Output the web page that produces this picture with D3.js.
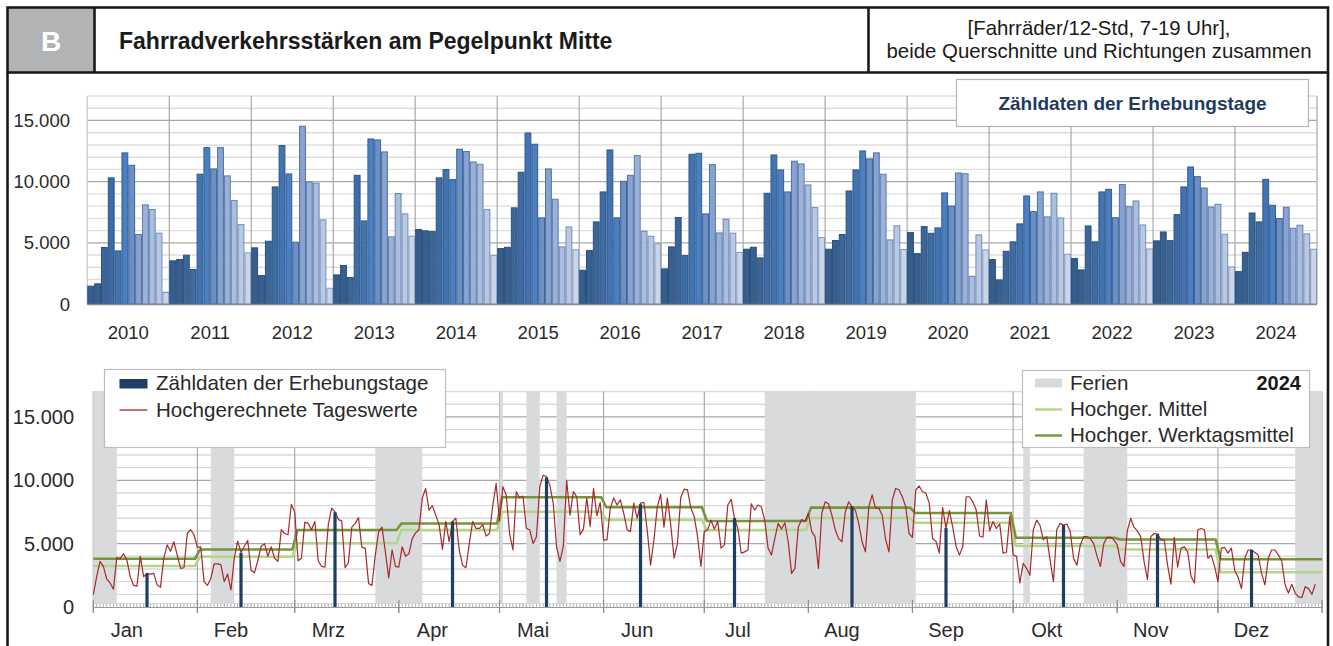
<!DOCTYPE html>
<html><head><meta charset="utf-8">
<script src="https://cdn.jsdelivr.net/npm/d3@7"></script>
<style>body{margin:0;background:#fff}svg{display:block;font-family:"Liberation Sans",Arial,Helvetica,sans-serif}</style>
</head><body><svg id="c" width="1333" height="646"></svg>
<script>
// ---------------- DATA ----------------
const years = [2010,2011,2012,2013,2014,2015,2016,2017,2018,2019,2020,2021,2022,2023,2024];
const monthNames = ["Jan","Feb","Mrz","Apr","Mai","Jun","Jul","Aug","Sep","Okt","Nov","Dez"];
// Zähldaten der Erhebungstage, one value per month and year
const surveyByYear = [
  [1500,1690,4660,10350,4380,12390,11380,5720,8140,7760,5830,980],
  [3570,3680,4030,2860,10650,12820,11080,12820,10510,8490,6530,4220],
  [4630,2370,5170,9610,12990,10670,5090,14570,10020,9910,6920,1330],
  [2420,3190,2210,10560,6830,13530,13450,12470,5530,9070,7410,5580],
  [6130,6020,5960,10350,11030,10210,12690,12500,11650,11460,7760,4000],
  [4570,4680,7900,10810,14020,13100,7080,11080,8600,4710,6340,4470],
  [2800,4410,6750,9200,12630,7080,10070,10560,12170,5990,5580,4960],
  [2910,4710,7110,4000,12280,12360,7410,11430,5850,6970,5830,4250],
  [4520,4680,3810,9090,12220,11000,9200,11710,11490,9770,7920,5470],
  [4520,5230,5720,9280,11000,12550,11900,12390,10650,5280,6430,4490],
  [5880,4160,6370,5820,6260,9120,8050,10750,10690,2310,5690,4460],
  [3670,2010,4350,5120,6590,8870,7590,9200,7160,9090,7070,4110],
  [3760,2830,6420,5120,9200,9410,7100,9800,8000,8460,6500,4540],
  [5200,5930,5220,7350,9610,11240,10450,9520,7970,8190,5740,3070],
  [2690,4270,7480,6750,10230,8110,7020,7950,6230,6480,5770,4520]
];
const yTicks = [0,5000,10000,15000];
// 2024 daily chart
const monthStartDays = [0,31,60,91,121,152,182,213,244,274,305,335,366];
const surveyDays2024 = [16,44,72,107,135,163,191,226,254,289,317,345];
const surveyValues2024 = [2690,4270,7480,6750,10230,8110,7020,7950,6230,6480,5770,4520];
const dailyValues2024 = [
950,2400,3600,3200,2200,1900,1400,3900,3800,4200,3700,2400,1700,1650,4000,2400,2600,2600,2650,1750,
1550,3850,4900,4400,5150,4100,3050,3100,5800,6100,5700,4700,4750,2000,1700,2250,3400,3400,3350,2000,
2600,1350,3850,5200,4300,4800,5250,2900,2700,3650,4800,5000,4000,4750,3850,3600,6100,5800,5700,8100,
7500,3650,3850,6700,6600,6100,6750,3650,3200,3150,6500,7800,7500,6900,6800,3100,3500,6300,6600,7050,
4700,4650,1850,1700,4100,5950,6300,4350,2300,4500,3200,3150,4750,4000,4200,5400,5850,6100,8600,9350,
7650,8000,7250,6500,4550,6750,5150,6750,7000,4500,3300,3100,5000,6750,6200,6200,6500,5600,5800,8050,
9750,6800,9500,8850,5800,4500,9100,8600,8750,6200,6100,5000,5550,9500,10400,10300,9600,8200,4750,3600,
4800,10000,7250,9100,8700,5700,6150,8600,6350,9350,7200,8250,5300,5300,7800,8600,8050,8450,7400,6100,
5950,8200,7000,8200,8250,6100,3300,5300,7900,8900,6300,8600,6500,3850,5000,8650,9300,9250,7800,7150,
5550,3200,5950,6100,6850,6150,6750,4650,4900,8050,8500,7000,6200,4250,4350,4500,8150,7650,8050,7900,
6850,4650,4100,5400,6600,6150,6650,5150,2650,3050,6300,6900,6750,7400,5950,5550,3050,7400,8300,8150,
7250,6100,5400,5150,7500,8300,7900,7650,6600,5150,4350,7900,8850,7800,7800,7250,5350,4350,8450,9350,
9250,8700,7900,5800,5500,9250,9550,9100,9000,8200,5400,5200,4250,7850,6200,7600,6300,4800,4100,4750,
8700,8700,8300,7650,5600,5500,8450,6000,6750,6200,6550,4250,4300,7150,4100,4000,1900,3450,3050,2500,
6100,6850,6450,5300,5550,3700,2000,6100,6600,6450,6550,5950,3850,3300,4900,5550,5550,5400,5000,4000,
3200,5000,5500,5500,5300,4900,3600,3200,6000,7000,6300,6000,5550,3600,2150,5550,5800,5750,5300,5300,
3300,1800,5500,3150,4650,4750,4350,2400,1900,6100,6200,6100,3850,4100,3200,2000,4650,4700,4250,4650,
2900,2350,1450,3850,4500,4500,4300,4100,2650,1750,3850,4500,4500,4100,3650,1750,1100,1800,1100,800,
750,1600,1450,1000,1800
];
const meanMonthly2024 = [3240,3970,5030,6080,7520,6870,6080,7020,6650,4810,4540,2740];
const workdayMeanMonthly2024 = [3810,4540,6080,6590,8660,7870,6790,7840,7420,5470,5330,3770];
// school holidays (start day, end day) of 2024
const holidays2024 = [[0,7],[35,42],[84,98],[121,122],[129,133],[138,141],[200,245],[277,279],[295,308],[358,366]];
// day within each month at which its label is centred
const monthLabelDay = 10;

// ---------------- DRAW ----------------
const svg = d3.select("#c");
const de = d3.formatLocale({decimal:",",thousands:".",grouping:[3],currency:["","€"]});
const fmt = de.format(",");

// ---- header ----
svg.append("rect").attr("x",7.5).attr("y",7.5).attr("width",87).attr("height",65).attr("fill","#b2b3b5");
svg.append("text").attr("x",51).attr("y",51).attr("text-anchor","middle").attr("fill","#fff")
  .attr("font-weight","bold").attr("font-size",28).text("B");
svg.append("text").attr("x",119).attr("y",49).attr("fill","#1a1a1a")
  .attr("font-weight","bold").attr("font-size",23).text("Fahrradverkehrsstärken am Pegelpunkt Mitte");
svg.append("text").attr("x",1099).attr("y",35).attr("text-anchor","middle").attr("fill","#1a1a1a")
  .attr("font-size",20.4).text("[Fahrräder/12-Std, 7-19 Uhr],");
svg.append("text").attr("x",1099).attr("y",58).attr("text-anchor","middle").attr("fill","#1a1a1a")
  .attr("font-size",20.4).text("beide Querschnitte und Richtungen zusammen");

// ---------------- TOP CHART ----------------
const topY = d3.scaleLinear().domain([0,17000]).range([304,96]);
const yearX = d3.scaleBand().domain(years).range([87.3,1317]).padding(0);
const monthX = d3.scaleBand().domain(d3.range(12)).range([0,yearX.bandwidth()]).padding(0);
const monthFill = ["#365e8d","#37608f","#3a6698","#3d6ca4","#4274b1","#4a80c2","#6c90c4","#88a3cf","#9cb1d7","#abbedd","#bac8e3","#cad5ea"];
const monthStroke = ["#2c4f7c","#2c4f7c","#2d527f","#2e5484","#305789","#335c91","#3f6498","#4e72a6","#5a7cad","#6483b2","#7190ba","#8098c0"];

const gTop = svg.append("g");
gTop.selectAll(".tg").data(d3.range(0,17001,1000)).join("line")
  .attr("x1",87.3).attr("x2",1317).attr("y1",d=>topY(d)).attr("y2",d=>topY(d))
  .attr("stroke",d=>d%5000===0?"#a8a8a8":"#dedede").attr("stroke-width",d=>d%5000===0?1.3:1.4);
const yearEdges = years.map(y=>yearX(y)).concat([yearX(years[years.length-1])+yearX.bandwidth()]);
gTop.selectAll(".yd").data(yearEdges).join("line")
  .attr("x1",d=>d).attr("x2",d=>d)
  .attr("y1",topY(17000)).attr("y2",topY(0))
  .attr("stroke",(d,i)=>i===0?"#c8c8c8":"#a8a8a8").attr("stroke-width",1.2);
const barData = [];
years.forEach((yr,yi)=>surveyByYear[yi].forEach((v,m)=>barData.push({yr,m,v})));
gTop.selectAll(".bar").data(barData).join("rect")
  .attr("x",d=>yearX(d.yr)+monthX(d.m)+0.5)
  .attr("width",monthX.bandwidth()-1)
  .attr("y",d=>topY(d.v)+0.5)
  .attr("height",d=>topY(0)-topY(d.v)-0.5)
  .attr("fill",d=>monthFill[d.m]).attr("stroke",d=>monthStroke[d.m]).attr("stroke-width",1);
gTop.append("line").attr("x1",87.3).attr("x2",1317).attr("y1",topY(0)+0.5).attr("y2",topY(0)+0.5)
  .attr("stroke","#7d8ba0").attr("stroke-width",1.6);
gTop.selectAll(".yl").data(yTicks).join("text")
  .attr("x",70).attr("y",d=>topY(d)).attr("dy","0.36em").attr("text-anchor","end")
  .attr("font-size",18.5).attr("fill","#2a2a2a").text(d=>fmt(d));
gTop.selectAll(".xl").data(years).join("text")
  .attr("x",d=>yearX(d)+yearX.bandwidth()/2).attr("y",339).attr("text-anchor","middle")
  .attr("font-size",18.5).attr("fill","#2a2a2a").text(d=>d);
gTop.append("rect").attr("x",956.5).attr("y",79.5).attr("width",352).attr("height",47)
  .attr("fill","#fff").attr("stroke","#b4b4b4").attr("stroke-width",1.2);
gTop.append("text").attr("x",1132.5).attr("y",110).attr("text-anchor","middle")
  .attr("font-weight","bold").attr("font-size",19).attr("fill","#1f3b61").text("Zähldaten der Erhebungstage");

// ---------------- BOTTOM CHART ----------------
const bx = d3.scaleLinear().domain([0,366]).range([93.3,1322]);
const by = d3.scaleLinear().domain([0,17000]).range([607,391.6]);
const gB = svg.append("g");
gB.selectAll(".bg").data(d3.range(1000,17001,1000)).join("line")
  .attr("x1",bx(0)).attr("x2",bx(366)).attr("y1",d=>by(d)).attr("y2",d=>by(d))
  .attr("stroke",d=>d%5000===0?"#a8a8a8":"#d9d9d9").attr("stroke-width",d=>d%5000===0?1.3:1.4);
gB.selectAll(".ml").data(monthStartDays).join("line")
  .attr("x1",d=>bx(d)).attr("x2",d=>bx(d)).attr("y1",by(17000)).attr("y2",613)
  .attr("stroke","#a3a3a3").attr("stroke-width",1.1);
gB.selectAll(".hol").data(holidays2024).join("rect")
  .attr("x",d=>bx(d[0])).attr("width",d=>bx(d[1])-bx(d[0]))
  .attr("y",by(17000)).attr("height",by(0)-by(17000)-4)
  .attr("fill","#d9dadc");
gB.selectAll(".dt").data(d3.range(0,367)).join("line")
  .attr("x1",d=>bx(d)).attr("x2",d=>bx(d)).attr("y1",603).attr("y2",607)
  .attr("stroke","#9a9a9a").attr("stroke-width",0.8);
gB.append("line").attr("x1",bx(0)).attr("x2",bx(366)).attr("y1",603.5).attr("y2",603.5)
  .attr("stroke","#d0d0d0").attr("stroke-width",0.8);
gB.append("line").attr("x1",bx(0)).attr("x2",bx(366)).attr("y1",607.5).attr("y2",607.5)
  .attr("stroke","#9a9a9a").attr("stroke-width",1.2);
gB.selectAll(".mt").data(monthStartDays).join("line")
  .attr("x1",d=>bx(d)).attr("x2",d=>bx(d)).attr("y1",600).attr("y2",613)
  .attr("stroke","#8a8a8a").attr("stroke-width",1.1);
function stepPoints(vals){
  const pts=[];
  vals.forEach((v,i)=>{
    pts.push([i===0?monthStartDays[0]:monthStartDays[i]+0.8, v]);
    pts.push([i===11?monthStartDays[12]:monthStartDays[i+1]-0.7, v]);
  });
  return pts;
}
const lineGen = d3.line().x(d=>bx(d[0])).y(d=>by(d[1]));
gB.append("path").attr("d",lineGen(stepPoints(meanMonthly2024)))
  .attr("fill","none").attr("stroke","#b4d58d").attr("stroke-width",2.6);
gB.append("path").attr("d",lineGen(stepPoints(workdayMeanMonthly2024)))
  .attr("fill","none").attr("stroke","#76953b").attr("stroke-width",2.6);
gB.append("path").attr("d",d3.line().x((d,i)=>bx(i)).y(d=>by(d))(dailyValues2024))
  .attr("fill","none").attr("stroke","#a6292c").attr("stroke-width",1.2).attr("stroke-linejoin","round");
gB.selectAll(".sb").data(surveyDays2024).join("rect")
  .attr("x",d=>bx(d)-1.6).attr("width",3.2)
  .attr("y",(d,i)=>by(surveyValues2024[i])).attr("height",(d,i)=>by(0)-by(surveyValues2024[i]))
  .attr("fill","#1f3e64");
gB.selectAll(".byl").data(yTicks).join("text")
  .attr("x",74).attr("y",d=>by(d)).attr("dy","0.36em").attr("text-anchor","end")
  .attr("font-size",20).attr("fill","#2a2a2a").text(d=>fmt(d));
gB.selectAll(".mlab").data(monthNames).join("text")
  .attr("x",(d,i)=>bx(monthStartDays[i]+monthLabelDay)).attr("y",637)
  .attr("text-anchor","middle").attr("font-size",20).attr("fill","#2a2a2a").text(d=>d);

// legends
const lg1 = gB.append("g");
lg1.append("rect").attr("x",104.5).attr("y",369.5).attr("width",341).attr("height",78)
  .attr("fill","#fff").attr("stroke","#bdbdbd").attr("stroke-width",1.2);
lg1.append("rect").attr("x",119.5).attr("y",379).attr("width",28).attr("height",9.5).attr("fill","#1f3e64");
lg1.append("text").attr("x",156).attr("y",389.5).attr("font-size",20.6).attr("fill","#2a2a2a").text("Zähldaten der Erhebungstage");
lg1.append("line").attr("x1",119.5).attr("x2",147.5).attr("y1",410).attr("y2",410).attr("stroke","#a6292c").attr("stroke-width",1.3);
lg1.append("text").attr("x",156).attr("y",417).attr("font-size",20.6).attr("fill","#2a2a2a").text("Hochgerechnete Tageswerte");

const lg2 = gB.append("g");
lg2.append("rect").attr("x",1022.5).attr("y",370.5).attr("width",287).attr("height",77)
  .attr("fill","#fff").attr("stroke","#bdbdbd").attr("stroke-width",1.2);
lg2.append("rect").attr("x",1035).attr("y",378.5).attr("width",27).attr("height",9).attr("fill","#d9dadc");
lg2.append("text").attr("x",1070).attr("y",389.5).attr("font-size",20.6).attr("fill","#2a2a2a").text("Ferien");
lg2.append("text").attr("x",1301).attr("y",389.5).attr("text-anchor","end").attr("font-weight","bold")
  .attr("font-size",20).attr("fill","#1a1a1a").text("2024");
lg2.append("line").attr("x1",1035).attr("x2",1062).attr("y1",409.5).attr("y2",409.5).attr("stroke","#b4d58d").attr("stroke-width",2.4);
lg2.append("text").attr("x",1070).attr("y",415.5).attr("font-size",20.6).attr("fill","#2a2a2a").text("Hochger. Mittel");
lg2.append("line").attr("x1",1035).attr("x2",1062).attr("y1",435.5).attr("y2",435.5).attr("stroke","#76953b").attr("stroke-width",2.4);
lg2.append("text").attr("x",1070).attr("y",442).attr("font-size",20.6).attr("fill","#2a2a2a").text("Hochger. Werktagsmittel");

// ---- frame lines ----
const frame = svg.append("g").attr("stroke","#1a1a1a").attr("stroke-width",2.6).attr("fill","none");
frame.append("rect").attr("x",7.5).attr("y",7.5).attr("width",1320.5).attr("height",65);
frame.append("line").attr("x1",94.5).attr("x2",94.5).attr("y1",7.5).attr("y2",72.5);
frame.append("line").attr("x1",868.5).attr("x2",868.5).attr("y1",7.5).attr("y2",72.5);
frame.append("line").attr("x1",7.5).attr("x2",7.5).attr("y1",72.5).attr("y2",646);
frame.append("line").attr("x1",1328).attr("x2",1328).attr("y1",72.5).attr("y2",646);
</script></body></html>
